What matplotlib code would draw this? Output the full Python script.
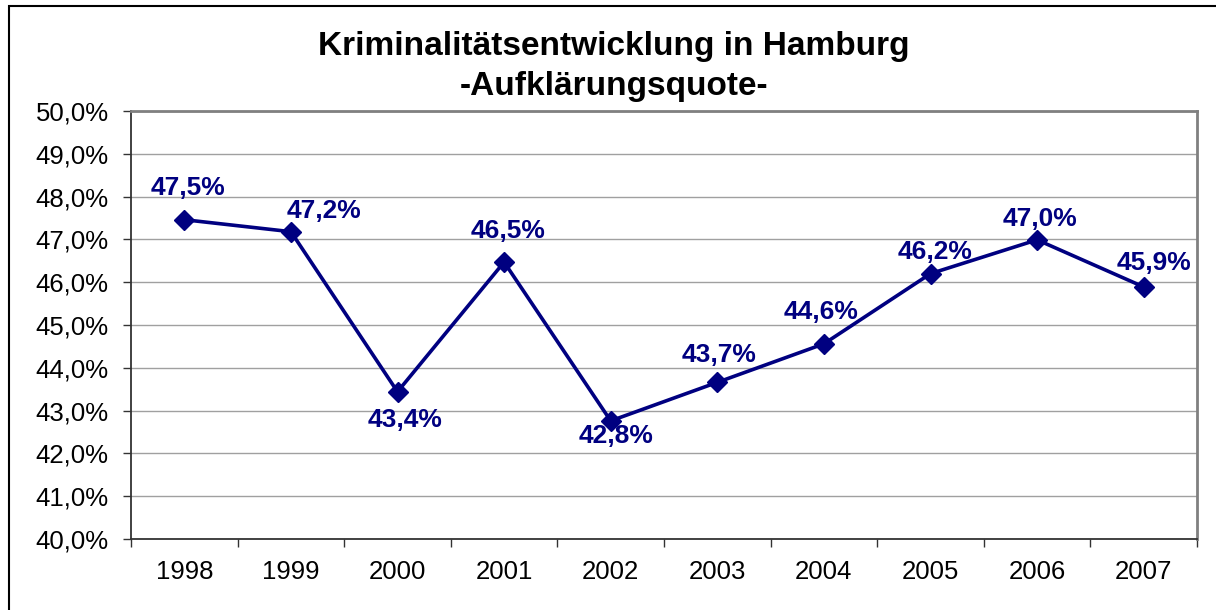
import matplotlib.pyplot as plt
from matplotlib.patches import Rectangle

# Aufklaerungsquote Hamburg
years = ['1998', '1999', '2000', '2001', '2002', '2003', '2004', '2005', '2006', '2007']
quote = [47.46, 47.18, 43.44, 46.47, 42.76, 43.66, 44.56, 46.2, 46.99, 45.89]

# label offsets in pixels (dx, dy), just to mimic excel placement
label_offsets = [(4, 32), (33, 21), (8, -28), (4, 31), (5, -15),
                 (2, 27), (-3, 32), (5, 22), (3, 21), (10, 24)]

navy = '#000080'
plt.rcParams['font.family'] = ['Liberation Sans', 'DejaVu Sans']

fig = plt.figure(figsize=(12.16, 6.10), dpi=100)
ax = fig.add_axes([131 / 1216, 1 - 539 / 610, (1197 - 131) / 1216, (539 - 111) / 610])

x = list(range(len(years)))
ax.plot(x, quote, color=navy, linewidth=2.6, marker='D', markersize=10.5,
        markerfacecolor=navy, markeredgecolor=navy, zorder=3)

for xi, v, (dx, dy) in zip(x, quote, label_offsets):
    ax.annotate(f'{v:.1f}%'.replace('.', ','), (xi, v), xytext=(dx * 0.72, dy * 0.72),
                textcoords='offset points', ha='center', va='center',
                fontsize=19, fontweight='bold', color=navy, zorder=4)

ax.set_xlim(-0.5, len(years) - 0.5)
ax.set_ylim(40, 50)
ax.set_yticks(range(40, 51))
ax.set_yticklabels([f'{t},0%' for t in range(40, 51)])
ax.set_xticks(x)
ax.set_xticklabels(years)
ax.set_xticks([i - 0.5 for i in range(len(years) + 1)], minor=True)
ax.tick_params(axis='x', which='major', length=0, pad=15, labelsize=18.5)
ax.tick_params(axis='x', which='minor', length=6, width=1, direction='out', color='#333333')
ax.tick_params(axis='y', length=6, width=1, direction='out', pad=10, labelsize=18.5, color='#333333')

ax.grid(axis='y', color='#a0a0a0', linewidth=1)
ax.set_axisbelow(True)
for side in ['left', 'bottom']:
    ax.spines[side].set_color('#333333')
    ax.spines[side].set_linewidth(1.3)
for side in ['top', 'right']:
    ax.spines[side].set_color('#808080')
    ax.spines[side].set_linewidth(2)

fig.text(614 / 1216, 1 - 47 / 610, 'Kriminalitätsentwicklung in Hamburg', ha='center', va='center',
         fontsize=24, fontweight='bold')
fig.text(614 / 1216, 1 - 87 / 610, '-Aufklärungsquote-', ha='center', va='center',
         fontsize=24, fontweight='bold')

# outer chart frame, cut off at right and bottom like the screenshot
fig.patches.append(Rectangle((9 / 1216, -0.1), 1.2, 1 - 6 / 610 + 0.1, transform=fig.transFigure,
                             fill=False, edgecolor='black', linewidth=1.5))

fig.savefig('out.png', dpi=100)
